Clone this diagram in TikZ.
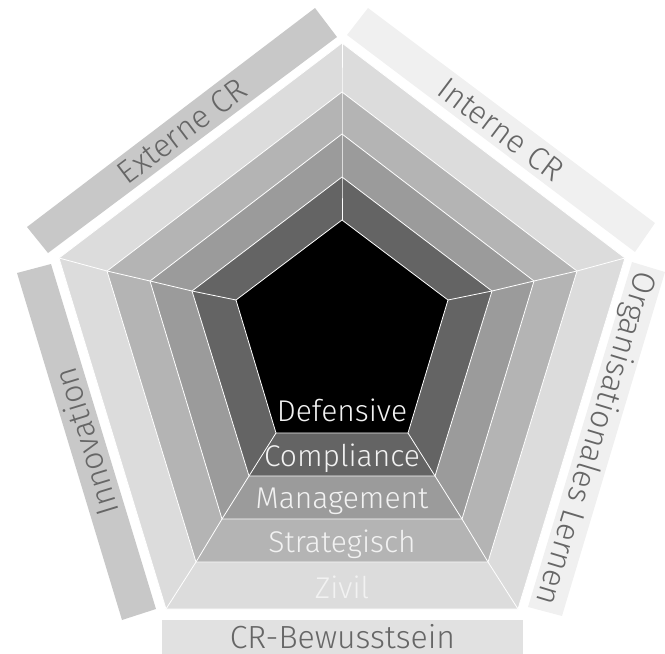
\documentclass[tikz,border=0pt]{standalone}
\usepackage{fontspec}
\setmainfont{Fira Sans Light}
\definecolor{czivil}{HTML}{DCDCDC}
\definecolor{cstrat}{HTML}{B4B4B4}
\definecolor{cmanag}{HTML}{9B9B9B}
\definecolor{ccompl}{HTML}{646464}
\definecolor{cdef}{HTML}{000000}
\definecolor{bardark}{HTML}{C8C8C8}
\definecolor{barlight}{HTML}{F0F0F0}
\definecolor{barmid}{HTML}{E1E1E1}
\definecolor{bartext}{HTML}{666666}
\definecolor{bandtext}{HTML}{F2F2F2}
\begin{document}
\begin{tikzpicture}[x=1pt,y=-1pt,
  ring/.style={draw=white,line width=0.8pt,line join=miter},
  spoke/.style={draw=white,line width=0.8pt},
  bandlabel/.style={anchor=base,inner sep=0pt,text=bandtext,font=\fontsize{30}{36}\selectfont},
  barlabel/.style={anchor=center,inner sep=0pt,text=bartext,text height=22pt,text depth=0pt,font=\fontsize{32}{38}\selectfont}]
\useasboundingbox (0,0) rectangle (665,654);
% vertices of the five nested pentagons
\coordinate (T0) at (342,220); \coordinate (T1) at (342,177); \coordinate (T2) at (342,134); \coordinate (T3) at (342,92); \coordinate (T4) at (342,43);
\coordinate (R0) at (448,300); \coordinate (R1) at (492,291); \coordinate (R2) at (534,281); \coordinate (R3) at (577,271); \coordinate (R4) at (625,258);
\coordinate (L0) at (236,300); \coordinate (L1) at (192,291); \coordinate (L2) at (150,281); \coordinate (L3) at (107,271); \coordinate (L4) at (59,258);
\coordinate (BR0) at (408,433); \coordinate (BR1) at (435,476); \coordinate (BR2) at (462,519); \coordinate (BR3) at (488,562); \coordinate (BR4) at (518,609);
\coordinate (BL0) at (276,433); \coordinate (BL1) at (249,476); \coordinate (BL2) at (222,519); \coordinate (BL3) at (196,562); \coordinate (BL4) at (166,609);
% rings
\path[ring,fill=czivil] (T4)--(R4)--(BR4)--(BL4)--(L4)--cycle;
\path[ring,fill=cstrat] (T3)--(R3)--(BR3)--(BL3)--(L3)--cycle;
\path[ring,fill=cmanag] (T2)--(R2)--(BR2)--(BL2)--(L2)--cycle;
\path[ring,fill=ccompl] (T1)--(R1)--(BR1)--(BL1)--(L1)--cycle;
\path[ring,fill=cdef] (T0)--(R0)--(BR0)--(BL0)--(L0)--cycle;
% spokes
\path[spoke] (T0)--(T1)--(T2)--(T3)--(T4);
\path[spoke] (R0)--(R1)--(R2)--(R3)--(R4);
\path[spoke] (L0)--(L1)--(L2)--(L3)--(L4);
\path[spoke] (BR0)--(BR1)--(BR2)--(BR3)--(BR4);
\path[spoke] (BL0)--(BL1)--(BL2)--(BL3)--(BL4);
% band labels
\node[bandlabel] (ldef) at (342,421) {Defensive};
\node[bandlabel] (lcom) at (342,466) {Compliance};
\node[bandlabel] (lman) at (342,508) {Management};
\node[bandlabel] (lstr) at (342,552) {Strategisch};
\node[bandlabel] (lziv) at (342,598) {Zivil};
% outer bars
\fill[bardark] (27,227)--(315,8)--(337,37)--(48,253)--cycle;
\fill[barlight] (347,35)--(368,8)--(655,223)--(635,252)--cycle;
\fill[barlight] (632,262)--(665,272)--(562,616)--(528,607)--cycle;
\fill[bardark] (17,273)--(51,264)--(156,609)--(122,620)--cycle;
\fill[barmid] (162,620) rectangle (523,654);
\node[barlabel,rotate=37] (bext) at (182,131) {Externe CR};
\node[barlabel,rotate=-37] (bint) at (501,129.5) {Interne CR};
\node[barlabel,rotate=-106.8] (borg) at (597,439) {Organisationales Lernen};
\node[barlabel,rotate=107] (binn) at (86.5,441.5) {Innovation};
\node[barlabel] (bcrb) at (342.5,637) {CR-Bewusstsein};
\end{tikzpicture}
\end{document}
